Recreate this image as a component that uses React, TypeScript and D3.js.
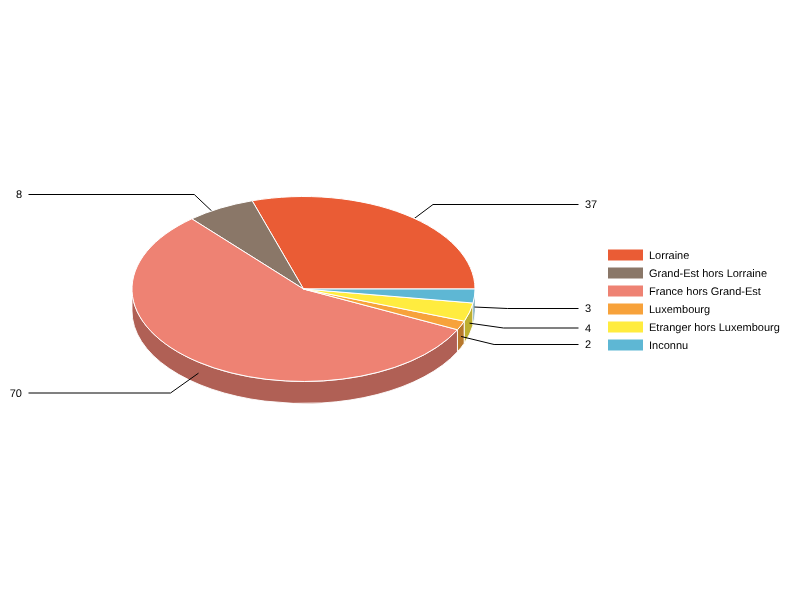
import React from "react";
import * as d3 from "d3";

const categories = ["Lorraine", "Grand-Est hors Lorraine", "France hors Grand-Est", "Luxembourg", "Etranger hors Luxembourg", "Inconnu"];
const values = [37, 8, 70, 2, 4, 3];
const colors = ["#EA5C35", "#8A7768", "#EE8273", "#F7A23B", "#FFEC3F", "#5EB7D4"];
// layout of the callouts (row of each label, horizontal length of the elbow)
const labelRows = [204.5, 194.5, 393, 344.5, 328, 308.5];
const elbowLengths = [28, 26, 28, 33, 34, 33];

const W = 800, H = 600;
const cx = 303.5, cy = 289, rx = 171.5, ry = 92.5, depth = 22;
const x = d3.scaleLinear().domain([-1, 1]).range([cx - rx, cx + rx]);
const y = d3.scaleLinear().domain([-1, 1]).range([cy - ry, cy + ry]);
const legendY = d3.scalePoint<string>().domain(categories).range([255, 345]);

// counter-clockwise from due east
const pie = d3.pie<number>().sort(null).startAngle(Math.PI / 2).endAngle(-1.5 * Math.PI);
const arcs = pie(values);

const px = (a: number) => x(Math.sin(a));
const py = (a: number) => y(-Math.cos(a));

function topPath(a0: number, a1: number) {
  const large = Math.abs(a1 - a0) > Math.PI ? 1 : 0;
  const sweep = a1 > a0 ? 1 : 0;
  return `M${cx},${cy}L${px(a0)},${py(a0)}A${rx},${ry} 0 ${large} ${sweep} ${px(a1)},${py(a1)}Z`;
}

// outer wall: part of the arc on the front half (clockwise angle between 90 and 270 degrees)
function wallPath(a0: number, a1: number) {
  const norm = (a: number) => (a + 4 * Math.PI) % (2 * Math.PI);
  const h = norm(a0);
  const l = h - (a0 - a1);
  const from = Math.max(l, Math.PI / 2);
  const to = Math.min(h, 1.5 * Math.PI);
  if (to <= from) return null;
  return `M${px(from)},${py(from)}A${rx},${ry} 0 0 1 ${px(to)},${py(to)}L${px(to)},${py(to) + depth}A${rx},${ry} 0 0 0 ${px(from)},${py(from) + depth}Z`;
}

export default function App() {
  return (
    <svg width={W} height={H} viewBox={`0 0 ${W} ${H}`} style={{ position: "absolute", left: 0, top: 0, display: "block", opacity: 0.999, willChange: "transform" }} fontFamily="'Liberation Sans', Arial, sans-serif" fontSize={11} textRendering="geometricPrecision">
      <g>
        {arcs.map((a, i) => {
          const d = wallPath(a.startAngle, a.endAngle);
          if (!d) return null;
          const c = d3.rgb(colors[i]);
          const dark = d3.rgb(c.r * 0.74, c.g * 0.74, c.b * 0.74).formatHex();
          return <path key={i} d={d} fill={dark} stroke="#fff" strokeWidth={1} strokeOpacity={0.9} />;
        })}
      </g>
      <g>
        {arcs.map((a, i) => {
          const mid = (a.startAngle + a.endAngle) / 2;
          const sx = px(mid), sy = py(mid) + depth / 2;
          const right = Math.sin(mid) > 0;
          const ex = sx + (right ? elbowLengths[i] : -elbowLengths[i]);
          const ly = labelRows[i];
          const tx = right ? 578.5 : 28.5;
          return (
            <g key={i}>
              <polyline points={`${sx},${sy} ${ex},${ly} ${tx},${ly}`} fill="none" stroke="#000" strokeWidth={1} />
              <text x={right ? 585 : 22} y={Math.floor(ly) + 4} textAnchor={right ? "start" : "end"} fill="#000">{values[i]}</text>
            </g>
          );
        })}
      </g>
      <g>
        {arcs.map((a, i) => (
          <path key={i} d={topPath(a.startAngle, a.endAngle)} fill={colors[i]} stroke="#fff" strokeWidth={1} strokeLinejoin="round" />
        ))}
      </g>
      <g>
        {categories.map((c, i) => {
          const ly = legendY(c) as number;
          return (
            <g key={c}>
              <rect x={608} y={ly - 5.5} width={35} height={11} fill={colors[i]} />
              <text x={649} y={ly + 4} fill="#000">{c}</text>
            </g>
          );
        })}
      </g>
    </svg>
  );
}
